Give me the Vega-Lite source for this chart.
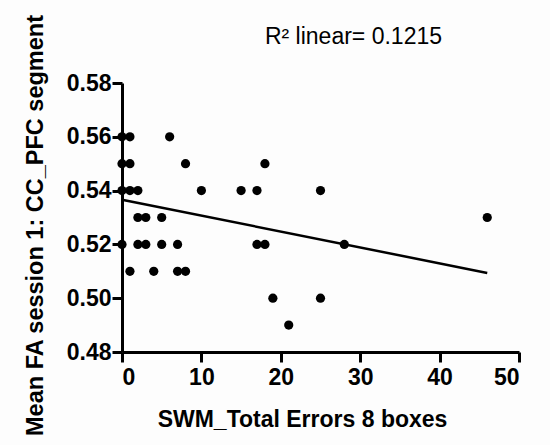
{
  "$schema": "https://vega.github.io/schema/vega-lite/v6.json",
  "autosize": "none",
  "width": 397,
  "height": 269,
  "padding": {"left": 122, "top": 83, "right": 31, "bottom": 93},
  "background": "#fdfdfd",
  "config": {
    "view": {"stroke": null},
    "font": "Liberation Sans",
    "axis": {
      "grid": false,
      "domainColor": "black",
      "domainWidth": 3,
      "tickColor": "black",
      "tickWidth": 3,
      "tickSize": 10,
      "labelFont": "Liberation Sans",
      "labelFontWeight": "bold",
      "labelFontSize": 23,
      "labelColor": "black",
      "titleFont": "Liberation Sans",
      "titleFontWeight": "bold",
      "titleColor": "black"
    }
  },
  "datasets": {
    "points": [
      {"errors": 0, "fa": 0.56}, {"errors": 1, "fa": 0.56}, {"errors": 0, "fa": 0.55}, {"errors": 1, "fa": 0.55},
      {"errors": 0, "fa": 0.54}, {"errors": 1, "fa": 0.54}, {"errors": 2, "fa": 0.54}, {"errors": 2, "fa": 0.53},
      {"errors": 3, "fa": 0.53}, {"errors": 5, "fa": 0.53}, {"errors": 0, "fa": 0.52}, {"errors": 2, "fa": 0.52},
      {"errors": 3, "fa": 0.52}, {"errors": 5, "fa": 0.52}, {"errors": 7, "fa": 0.52}, {"errors": 1, "fa": 0.51},
      {"errors": 4, "fa": 0.51}, {"errors": 7, "fa": 0.51}, {"errors": 8, "fa": 0.51}, {"errors": 6, "fa": 0.56},
      {"errors": 8, "fa": 0.55}, {"errors": 10, "fa": 0.54}, {"errors": 15, "fa": 0.54}, {"errors": 17, "fa": 0.54},
      {"errors": 18, "fa": 0.55}, {"errors": 17, "fa": 0.52}, {"errors": 18, "fa": 0.52}, {"errors": 19, "fa": 0.50},
      {"errors": 21, "fa": 0.49}, {"errors": 25, "fa": 0.54}, {"errors": 46, "fa": 0.53}, {"errors": 28, "fa": 0.52},
      {"errors": 25, "fa": 0.50}
    ],
    "fit": [
      {"errors": 0, "fa": 0.5366},
      {"errors": 46, "fa": 0.5094}
    ],
    "note": [
      {"errors": 18, "fa": 0.5972, "label": "R² linear= 0.1215"}
    ]
  },
  "layer": [
    {
      "data": {"name": "points"},
      "mark": {"type": "point", "filled": true, "color": "black", "opacity": 1, "size": 85},
      "encoding": {
        "x": {
          "field": "errors", "type": "quantitative",
          "scale": {"domain": [0, 50], "nice": false, "zero": false},
          "axis": {"values": [0, 10, 20, 30, 40, 50], "title": "SWM_Total Errors 8 boxes", "titleFontSize": 23, "labelPadding": 4, "titlePadding": 19, "titleX": 180}
        },
        "y": {
          "field": "fa", "type": "quantitative",
          "scale": {"domain": [0.48, 0.58], "nice": false, "zero": false},
          "axis": {"values": [0.48, 0.5, 0.52, 0.54, 0.56, 0.58], "format": ".2f", "title": "Mean FA session 1: CC_PFC segment", "titleFontSize": 23.5, "labelPadding": 1, "titlePadding": 19, "titleY": 142}
        }
      }
    },
    {
      "data": {"name": "fit"},
      "mark": {"type": "line", "color": "black", "strokeWidth": 2.5},
      "encoding": {
        "x": {"field": "errors", "type": "quantitative"},
        "y": {"field": "fa", "type": "quantitative"}
      }
    },
    {
      "data": {"name": "note"},
      "mark": {"type": "text", "align": "left", "baseline": "middle", "fontSize": 23, "font": "Liberation Sans", "color": "black", "clip": false},
      "encoding": {
        "x": {"field": "errors", "type": "quantitative"},
        "y": {"field": "fa", "type": "quantitative"},
        "text": {"field": "label"}
      }
    }
  ]
}
